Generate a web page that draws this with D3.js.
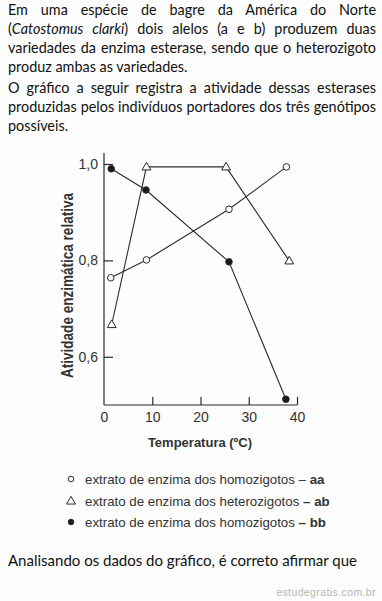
<!DOCTYPE html>
<html><head><meta charset="utf-8">
<script src="https://cdn.jsdelivr.net/npm/d3@7"></script>
<style>
html,body{margin:0;padding:0;background:#fcfdfc;}
#wrap{position:relative;width:382px;height:601px;overflow:hidden;}
.para{position:absolute;left:8px;width:368px;font-family:Lato,"Open Sans",sans-serif;font-size:14.4px;color:#111;}
.ln{height:19px;line-height:19px;white-space:nowrap;}
.ln span{white-space:nowrap;}
svg{position:absolute;left:0;top:0;}
</style></head>
<body><div id="wrap"></div>
<script>
const introLines = [
  ["Em uma espécie de bagre da América do Norte", true],
  ["(<i>Catostomus clarki</i>) dois alelos (a e b) produzem duas", true],
  ["variedades da enzima esterase, sendo que o heterozigoto", true],
  ["produz ambas as variedades.", false]
];
const introLines2 = [
  ["O gráfico a seguir registra a atividade dessas esterases", true],
  ["produzidas pelos indivíduos portadores dos três genótipos", true],
  ["possíveis.", false]
];
const xTicks = [0, 10, 20, 30, 40];
const yTicks = [0.6, 0.8, 1.0];
const yTickLabels = ["0,6", "0,8", "1,0"];
const tempAA = [1.4, 8.8, 25.9, 37.8];
const actAA  = [0.764, 0.801, 0.906, 0.994];
const tempAB = [1.6, 8.8, 25.3, 38.4];
const actAB  = [0.667, 0.994, 0.994, 0.799];
const tempBB = [1.5, 8.7, 25.9, 37.7];
const actBB  = [0.990, 0.946, 0.797, 0.512];
const legendPrefix = ["extrato de enzima dos homozigotos ", "extrato de enzima dos heterozigotos ", "extrato de enzima dos homozigotos "];
const legendBold = ["aa", "ab", "bb"];
const legendShape = ["circle", "triangle", "dot"];

const wrap = d3.select("#wrap");
function para(lines, top){
  const p = wrap.append("div").attr("class","para").style("top", top+"px");
  lines.forEach(([t,j]) => {
    const row = p.append("div").attr("class","ln");
    const sp = row.append("span").html(t);
    if (j) {
      const w = sp.node().getBoundingClientRect().width;
      const gaps = (sp.node().textContent.match(/ /g) || []).length;
      if (gaps) sp.style("word-spacing", ((368 - w) / gaps) + "px");
    }
  });
}
para(introLines, 0);
para(introLines2, 78);

const svg = wrap.append("svg").attr("width",382).attr("height",601);
const x = d3.scaleLinear().domain([0,40]).range([104,297]);
const y = d3.scaleLinear().domain([0.5,1.0]).range([405,164]);
const ink = "#2a2a2a";
const sans = "'Liberation Sans',Arial,sans-serif";

// axes
const xAxis = svg.append("g").attr("transform","translate(0,405)")
  .call(d3.axisBottom(x).tickValues(xTicks).tickSize(-8).tickPadding(7).tickFormat(d3.format("d")));
const yAxis = svg.append("g").attr("transform","translate(104,0)")
  .call(d3.axisLeft(y).tickValues(yTicks).tickSize(-9).tickPadding(6).tickFormat((d,i)=>yTickLabels[i]));
[xAxis,yAxis].forEach(g=>{
  g.select(".domain").remove();
  g.selectAll("line").attr("stroke",ink).attr("stroke-width",1.2);
  g.selectAll("text").attr("fill","#333").style("font-family",sans).style("font-size","14px");
});
xAxis.selectAll(".tick").filter(d=>d===0).select("line").remove();
svg.append("line").attr("x1",104).attr("x2",104).attr("y1",153).attr("y2",405).attr("stroke",ink).attr("stroke-width",1.2);
svg.append("line").attr("x1",104).attr("x2",297).attr("y1",405).attr("y2",405).attr("stroke",ink).attr("stroke-width",1.2);

svg.append("text").attr("transform","translate(72.5,285.5) rotate(-90)").attr("text-anchor","middle")
  .attr("textLength",185).attr("lengthAdjust","spacingAndGlyphs")
  .style("font-family",sans).style("font-weight","bold").style("font-size","17px").attr("fill","#333")
  .text("Atividade enzimática relativa");
svg.append("text").attr("x",200).attr("y",447).attr("text-anchor","middle")
  .style("font-family",sans).style("font-weight","bold").style("font-size","13px").attr("fill","#333")
  .text("Temperatura (ºC)");

const line = d3.line().x(d=>x(d[0])).y(d=>y(d[1]));
const series = [
  {t:tempAA, v:actAA, shape:"circle"},
  {t:tempAB, v:actAB, shape:"triangle"},
  {t:tempBB, v:actBB, shape:"dot"}
];
series.forEach(s=>{
  const pts = s.t.map((t,i)=>[t,s.v[i]]);
  svg.append("path").attr("d",line(pts)).attr("fill","none").attr("stroke",ink).attr("stroke-width",1.1);
});
const tri = d3.symbol().type(d3.symbolTriangle).size(34);
function marker(g, shape, cx, cy, r){
  if(shape==="triangle"){
    g.append("path").attr("d",tri()).attr("transform",`translate(${cx},${cy+0.5})`)
      .attr("fill","#fcfdfc").attr("stroke",ink).attr("stroke-width",1);
  } else {
    g.append("circle").attr("cx",cx).attr("cy",cy).attr("r",r)
      .attr("fill", shape==="dot" ? "#1a1a1a" : "#fcfdfc").attr("stroke",ink).attr("stroke-width",1);
  }
}
series.forEach(s=>{
  s.t.forEach((t,i)=>marker(svg, s.shape, x(t), y(s.v[i]), 3.3));
});

// legend
const legY = [479, 501, 522];
legendPrefix.forEach((p,i)=>{
  marker(svg, legendShape[i], 71, legY[i], 2.8);
  const t = svg.append("text").attr("x",85).attr("y",legY[i]+4.8)
    .style("font-family",sans).style("font-size","13.3px").attr("fill","#333");
  t.append("tspan").text(p);
  t.append("tspan").style("font-weight", i===0 ? "normal" : "bold").text("– ");
  t.append("tspan").style("font-weight","bold").text(legendBold[i]);
});

const outro = wrap.append("div").attr("class","para").style("top","550.5px");
outro.append("div").attr("class","ln").style("font-size","15px").text("Analisando os dados do gráfico, é correto afirmar que");
wrap.append("div").style("position","absolute").style("right","6px").style("top","586px")
  .style("font-family",sans).style("font-size","10.5px").style("color","#b5b5b5")
  .style("letter-spacing","0.4px").text("estudegratis.com.br");
</script></body></html>
